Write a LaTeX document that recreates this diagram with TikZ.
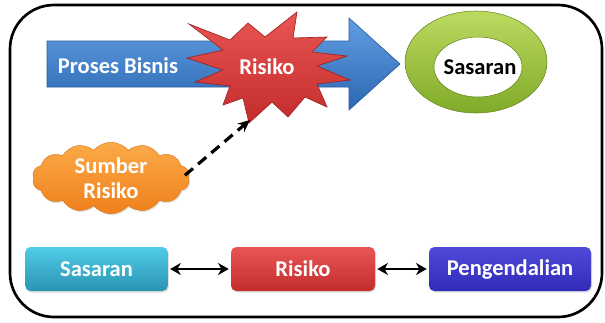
\documentclass[tikz,border=0pt]{standalone}
\usepackage{fontspec}
\newfontfamily\lblfont{Carlito}
\usetikzlibrary{shapes.symbols,arrows.meta,shadows}

\definecolor{procTop}{RGB}{98,158,226}
\definecolor{procBot}{RGB}{44,104,178}
\definecolor{procEdge}{RGB}{40,92,160}
\definecolor{riskTop}{RGB}{232,86,84}
\definecolor{riskBot}{RGB}{196,44,44}
\definecolor{riskEdge}{RGB}{160,36,36}
\definecolor{ringTop}{RGB}{188,218,96}
\definecolor{ringBot}{RGB}{128,170,40}
\definecolor{srcTop}{RGB}{252,170,72}
\definecolor{srcBot}{RGB}{238,128,28}
\definecolor{goalTop}{RGB}{80,204,232}
\definecolor{goalBot}{RGB}{42,148,178}
\definecolor{ctrlTop}{RGB}{80,74,218}
\definecolor{ctrlBot}{RGB}{48,42,184}

\tikzset{
  lbl/.style={font=\lblfont\bfseries\fontsize{16.9}{18.8}\selectfont, text=white, inner sep=0pt},
  frame/.style={draw=black, line width=2pt, rounded corners=33pt},
  flowbox/.style={lbl, rectangle, rounded corners=4pt, minimum height=33pt,
    drop shadow={opacity=0.25, shadow xshift=0.8pt, shadow yshift=-1.2pt}},
  biarrow/.style={{Stealth[length=8pt,width=9pt,inset=2.5pt]}-{Stealth[length=8pt,width=9pt,inset=2.5pt]}, line width=2pt, shorten <=1.5pt, shorten >=1.5pt},
  causearrow/.style={-{Stealth[length=9pt,width=8pt]}, line width=2.4pt, dash pattern=on 8pt off 5pt}
}

\begin{document}
\begin{tikzpicture}[x=0.75pt,y=-0.75pt]
\useasboundingbox (0,0) rectangle (605,322);

% outer frame
\draw[frame] (10,5) rectangle (602,317);

% business process arrow
\path[draw=procEdge, line width=0.5pt, top color=procTop, bottom color=procBot]
  (47,41) -- (349,41) -- (349,18) -- (400,64) -- (349,110) -- (349,87) -- (47,87) -- cycle;
\node[lbl] (proc) at (118,66) {Proses Bisnis};

% risk starburst
\path[draw=riskEdge, line width=0.5pt, top color=riskTop, bottom color=riskBot]
  (189,24) -- (230,40) -- (248,23) -- (265,37) -- (297,12) -- (293,38) --
  (327,37) -- (312,52) -- (347,56) -- (317,66) -- (350,80) -- (317,84) --
  (327,107) -- (305,97) -- (288,117) -- (272,102) -- (249,123) -- (243,98) --
  (223,105) -- (230,86) -- (195,82) -- (223,70) -- (187,58) -- (223,50) -- cycle;
\coordinate (risktip) at (250,120);
\node[lbl] (risk) at (267,67) {Risiko};

% objective ring
\path[even odd rule, draw=ringBot!80!black, line width=0.4pt, top color=ringTop, bottom color=ringBot]
  (476,62) ellipse [x radius=53.25pt, y radius=38.25pt]
  (478,67) ellipse [x radius=33pt, y radius=22.5pt];
\node[lbl, text=black] (goal) at (480,67) {Sasaran};

% risk source cloud
\node[lbl, cloud, cloud puffs=14, cloud puff arc=100, aspect=2.5,
  minimum width=118pt, minimum height=45pt, align=center,
  top color=srcTop, bottom color=srcBot, draw=srcBot!90!black, line width=0.3pt,
  drop shadow={opacity=0.2, shadow xshift=0.8pt, shadow yshift=-1.2pt}]
  (source) at (111,178) {Sumber\\Risiko};
\draw[causearrow] ([xshift=-3pt,yshift=2pt]source.east) -- (risktip);

% bottom chain
\node[flowbox, minimum width=107pt, top color=goalTop, bottom color=goalBot] (sas) at (96.5,269) {Sasaran};
\node[flowbox, minimum width=108pt, top color=riskTop, bottom color=riskBot] (ris) at (303,269) {Risiko};
\node[flowbox, minimum width=121.5pt, top color=ctrlTop, bottom color=ctrlBot] (ctl) at (510,269) {Pengendalian};
\draw[biarrow] (sas.east) -- (ris.west);
\draw[biarrow] (ris.east) -- (ctl.west);
\end{tikzpicture}
\end{document}
